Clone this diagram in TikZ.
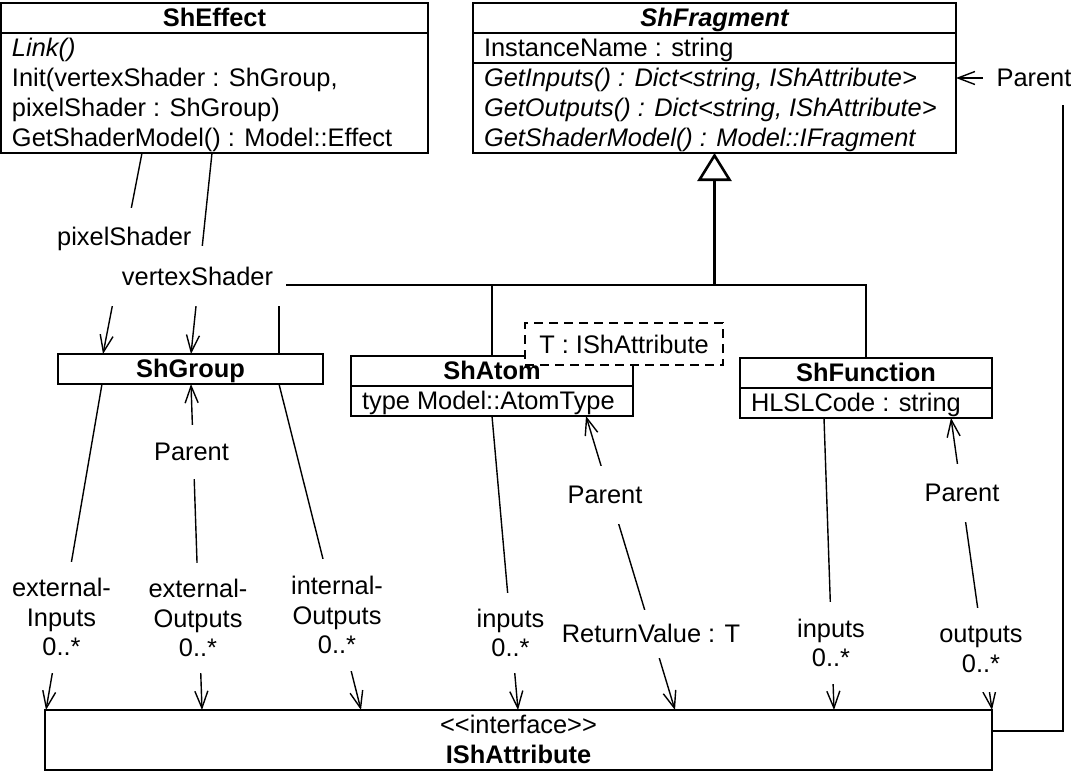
\documentclass[tikz,border=0pt]{standalone}
\usepackage{fontspec}
\setmainfont{Liberation Sans}
\usetikzlibrary{arrows.meta,calc}
\newcommand\umlsize{\fontsize{25.4pt}{29.5pt}\selectfont}
\begin{document}
\begin{tikzpicture}[x=1pt,y=-1pt,
  every node/.style={font=\umlsize, inner sep=0pt, outer sep=0pt},
  classbox/.style={draw, line width=1.8pt, fill=white, anchor=north west},
  sep/.style={line width=1.8pt},
  rowtext/.style={anchor=base west},
  rowital/.style={anchor=base west, font=\umlsize\itshape},
  headtext/.style={anchor=base, font=\umlsize\bfseries},
  assoc/.style={line width=1.4pt},
  barb/.tip={Straight Barb[length=17pt, width=13pt]},
  nav/.style={assoc, -barb},
  bothnav/.style={assoc, barb-barb},
  gen/.style={line width=2pt},
  stemline/.style={line width=2.6pt, -{Triangle[open, length=28pt, width=34pt]}},
  mask/.style={fill=white, align=center},
  tparam/.style={draw, dash pattern=on 9pt off 6pt, line width=1.8pt, fill=white},
]
\useasboundingbox (0,0) rectangle (1071,771);

% ---- classes ----
\node[classbox, minimum width=427pt, minimum height=150pt] (sheffect) at (1,3) {};
\draw[sep] ($(sheffect.north west)+(0,30)$) -- ($(sheffect.north east)+(0,30)$);
\node[headtext] (sheffectname) at (214.5,26.5) {ShEffect};
\node[rowital] (sheffectlink) at (12,56.5) {Link()};
\node[rowtext] (sheffectinita) at (12,86.5) {Init(vertexShader : ShGroup,};
\node[rowtext] (sheffectinitb) at (12,116.5) {pixelShader : ShGroup)};
\node[rowtext] (sheffectgsm) at (12,146.5) {GetShaderModel() : Model::Effect};

\node[classbox, minimum width=483pt, minimum height=150pt] (shfragment) at (473,3) {};
\draw[sep] ($(shfragment.north west)+(0,30)$) -- ($(shfragment.north east)+(0,30)$);
\draw[sep] ($(shfragment.north west)+(0,60)$) -- ($(shfragment.north east)+(0,60)$);
\node[headtext, font=\umlsize\bfseries\itshape] (shfragmentname) at (714.5,26.5) {ShFragment};
\node[rowtext] (shfragmentinst) at (484,56.5) {InstanceName : string};
\node[rowital] (shfragmentin) at (484,86.5) {GetInputs() : Dict<string, IShAttribute>};
\node[rowital] (shfragmentout) at (484,116.5) {GetOutputs() : Dict<string, IShAttribute>};
\node[rowital] (shfragmentgsm) at (484,146.5) {GetShaderModel() : Model::IFragment};

\node[classbox, minimum width=265pt, minimum height=30pt] (shgroup) at (58,354) {};
\node[headtext] (shgroupname) at (190.5,377.5) {ShGroup};

\node[classbox, minimum width=282pt, minimum height=60pt] (shatom) at (351,356) {};
\draw[sep] ($(shatom.north west)+(0,30)$) -- ($(shatom.north east)+(0,30)$);
\node[headtext] (shatomname) at (492,379.5) {ShAtom};
\node[rowtext] (shatomtype) at (362,409.5) {type Model::AtomType};

\node[classbox, minimum width=252pt, minimum height=60pt] (shfunction) at (740,358) {};
\draw[sep] ($(shfunction.north west)+(0,30)$) -- ($(shfunction.north east)+(0,30)$);
\node[headtext] (shfunctionname) at (866,381.5) {ShFunction};
\node[rowtext] (shfunctioncode) at (751,411.5) {HLSLCode : string};

\node[classbox, minimum width=947pt, minimum height=60pt] (ishattr) at (45,710) {};
\node[anchor=base] (ishattrstereo) at (518.5,733.5) {<\kern0pt<interface>\kern0pt>};
\node[headtext] (ishattrname) at (518.5,763.5) {IShAttribute};

% ---- generalization tree ----
\coordinate (busL) at (279,285);
\coordinate (busA) at (492,285);
\coordinate (busR) at (866,285);
\coordinate (stemfoot) at (714.5,285);
\draw[gen] (shgroup.north -| busL) -- (busL) -- (busR) -- (shfunction.north -| busR);
\draw[gen] (busA) -- (shatom.north -| busA);
\draw[stemline] (stemfoot) -- (shfragment.south);

% ---- associations ----
\draw[nav] ($(sheffect.south west)+(141,0)$) -- ($(shgroup.north west)+(45,0)$);
\draw[nav] ($(sheffect.south west)+(211,0)$) -- ($(shgroup.north west)+(133,0)$);

\draw[nav] ($(shgroup.south west)+(44,0)$) -- ($(ishattr.north west)+(1,0)$);
\draw[bothnav] ($(shgroup.south west)+(133,0)$) -- ($(ishattr.north west)+(157,0)$);
\draw[nav] ($(shgroup.south west)+(221,0)$) -- ($(ishattr.north west)+(316,0)$);
\draw[nav] ($(shatom.south west)+(141,0)$) -- ($(ishattr.north west)+(473,0)$);
\draw[bothnav] ($(shatom.south west)+(235,0)$) -- ($(ishattr.north west)+(630,0)$);
\draw[nav] ($(shfunction.south west)+(84,0)$) -- ($(ishattr.north west)+(789,0)$);
\draw[bothnav] ($(shfunction.south west)+(211,0)$) -- (ishattr.north east);

\coordinate (parentturn) at (1063,78);
\draw[nav] ($(ishattr.north east)+(0,21)$) -| (parentturn) -- ($(shfragment.north east)+(0,75)$);

% ---- template parameter ----
\node[tparam, minimum width=198pt, minimum height=42pt] (shatomparam) at (624,344) {T : IShAttribute};

% ---- role labels (white backing breaks the lines) ----
\node[mask, minimum width=146pt, minimum height=61pt] (lpixel) at (124.3,238.5) {pixelShader};
\node[mask, minimum width=177pt, minimum height=60pt] (lvertex) at (197.5,276) {vertexShader};
\node[mask, minimum width=88pt, minimum height=54pt] (lgroupparent) at (191.5,452) {Parent};
\node[mask, minimum width=110pt, minimum height=111pt] (lextin) at (61.5,617) {external-\\Inputs\\0..*};
\node[mask, minimum width=110pt, minimum height=110pt] (lextout) at (198,618) {external-\\Outputs\\0..*};
\node[mask, minimum width=104pt, minimum height=112pt] (lintout) at (337,615) {internal-\\Outputs\\0..*};
\node[mask, minimum width=80pt, minimum height=80pt] (latomin) at (510.5,633) {inputs\\0..*};
\node[mask, minimum width=88pt, minimum height=58pt] (latomparent) at (605,495) {Parent};
\node[mask, minimum width=190pt, minimum height=48pt] (lreturn) at (651,633.5) {ReturnValue : T};
\node[mask, minimum width=80pt, minimum height=82pt] (lfuncin) at (831,643) {inputs\\0..*};
\node[mask, minimum width=88pt, minimum height=58pt] (lfuncparent) at (962,493) {Parent};
\node[mask, minimum width=96pt, minimum height=84pt] (lfuncout) at (981,649.5) {outputs\\0..*};
\node[mask, minimum width=102.5pt, minimum height=55pt] (lfragparent) at (1034,77.5) {Parent};
\end{tikzpicture}
\end{document}
